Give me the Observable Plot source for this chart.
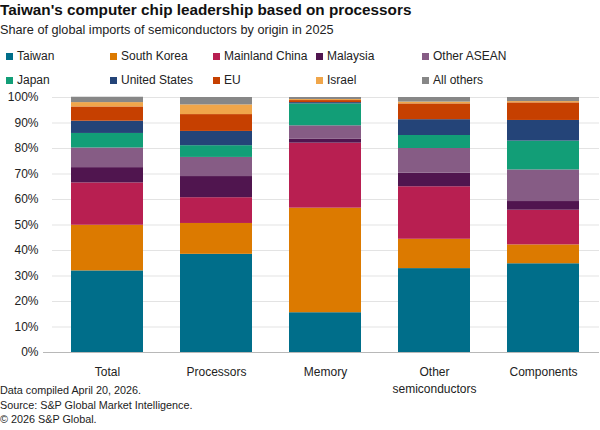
<!DOCTYPE html>
<html>
<head>
<meta charset="utf-8">
<script src="https://cdn.jsdelivr.net/npm/d3@7"></script>
<script src="https://cdn.jsdelivr.net/npm/@observablehq/plot@0.6"></script>
<style>
  html, body { margin: 0; padding: 0; background: #fff; }
  body { font-family: "Liberation Sans", Arial, sans-serif; color: #1a1a1a; }
  #wrap { position: relative; width: 600px; height: 430px; overflow: hidden; }
  .title { position: absolute; left: 0; top: 1px; font-size: 15.3px; line-height: 18px; font-weight: bold; color: #111; white-space: nowrap; }
  .subtitle { position: absolute; left: 0; top: 23px; font-size: 12.7px; line-height: 15px; color: #222; white-space: nowrap; }
  .legend-item { position: absolute; font-size: 12px; line-height: 14px; color: #222; white-space: nowrap; }
  .legend-item .sw { position: absolute; left: -11px; top: 3.5px; width: 7px; height: 7px; }
  #chart { position: absolute; left: 0; top: 90px; }
  .caption { position: absolute; left: 0; top: 383px; font-size: 10.8px; line-height: 14.5px; color: #222; white-space: nowrap; }
</style>
</head>
<body>
<div id="wrap">
  <div class="title">Taiwan's computer chip leadership based on processors</div>
  <div class="subtitle">Share of global imports of semiconductors by origin in 2025</div>
  <div id="legend"></div>
  <div id="chart"></div>
  <div class="caption">Data compiled April 20, 2026.<br>Source: S&amp;P Global Market Intelligence.<br>© 2026 S&amp;P Global.</div>
</div>
<script>
// ---- Data ----
const categories = ["Total", "Processors", "Memory", "Other semiconductors", "Components"];
const xTickLabels = ["Total", "Processors", "Memory", "Other\nsemiconductors", "Components"];
const origins = ["Taiwan", "South Korea", "Mainland China", "Malaysia", "Other ASEAN", "Japan", "United States", "EU", "Israel", "All others"];
const colors = ["#006e8a", "#dc7a00", "#b81f51", "#50154f", "#865c85", "#129e77", "#244478", "#c64000", "#f0a64a", "#878787"];
const yTicks = [0, 10, 20, 30, 40, 50, 60, 70, 80, 90, 100];

const taiwan        = [32.0, 38.5, 15.6, 32.9, 34.8];
const southKorea    = [17.9, 12.1, 41.0, 11.5,  7.4];
const mainlandChina = [16.6, 10.1, 25.5, 20.6, 13.6];
const malaysia      = [ 6.0,  8.3,  1.5,  5.3,  3.4];
const otherASEAN    = [ 7.7,  7.5,  5.3,  9.7, 12.4];
const japan         = [ 5.7,  4.6,  8.6,  5.1, 11.3];
const unitedStates  = [ 4.8,  5.6,  0.5,  6.2,  8.1];
const eu            = [ 5.6,  6.6,  0.8,  6.2,  6.9];
const israel        = [ 1.7,  3.8,  0.4,  0.7,  0.5];
const allOthers     = [ 2.1,  2.9,  0.8,  1.8,  1.6];

const series = [taiwan, southKorea, mainlandChina, malaysia, otherASEAN, japan, unitedStates, eu, israel, allOthers];

const rows = [];
origins.forEach((o, i) => {
  categories.forEach((c, j) => rows.push({category: c, origin: o, value: series[i][j]}));
});

// ---- Legend (HTML) ----
const legend = document.getElementById("legend");
const colX = [17, 121, 224, 327, 433];
const rowTop = [49, 73];
origins.forEach((o, i) => {
  const item = document.createElement("div");
  item.className = "legend-item";
  item.style.left = colX[i % 5] + "px";
  item.style.top = rowTop[Math.floor(i / 5)] + "px";
  const sw = document.createElement("span");
  sw.className = "sw";
  sw.style.background = colors[i];
  item.appendChild(sw);
  item.appendChild(document.createTextNode(o));
  legend.appendChild(item);
});

// ---- Chart ----
const labelMap = new Map(categories.map((c, i) => [c, xTickLabels[i]]));
const chart = Plot.plot({
  width: 600,
  height: 305,
  marginTop: 7,
  marginBottom: 43,
  marginLeft: 52,
  marginRight: 1,
  style: {fontFamily: "'Liberation Sans', Arial, sans-serif", fontSize: "12px", color: "#222", background: "white"},
  x: {domain: categories, paddingInner: 0.337, paddingOuter: 0.1685, label: null},
  y: {domain: [0, 100], label: null},
  color: {domain: origins, range: colors},
  marks: [
    Plot.gridY(yTicks, {stroke: "#e3e3e3", strokeOpacity: 1, strokeWidth: 1}),
    Plot.barY(rows, Plot.stackY({order: origins}, {x: "category", y: "value", fill: "origin", z: "origin"})),
    Plot.ruleY([0], {stroke: "#b8b8b8", strokeWidth: 1.2, insetLeft: -9}),
    Plot.axisY(yTicks, {tickSize: 0, tickPadding: 14, tickFormat: d => d + "%", fontSize: 12, fill: "#222", label: null}),
    Plot.axisX({tickSize: 0, tickPadding: 12, tickFormat: d => labelMap.get(d), fontSize: 12, fill: "#222", lineHeight: 1.4, label: null})
  ]
});
document.getElementById("chart").appendChild(chart);
</script>
</body>
</html>
